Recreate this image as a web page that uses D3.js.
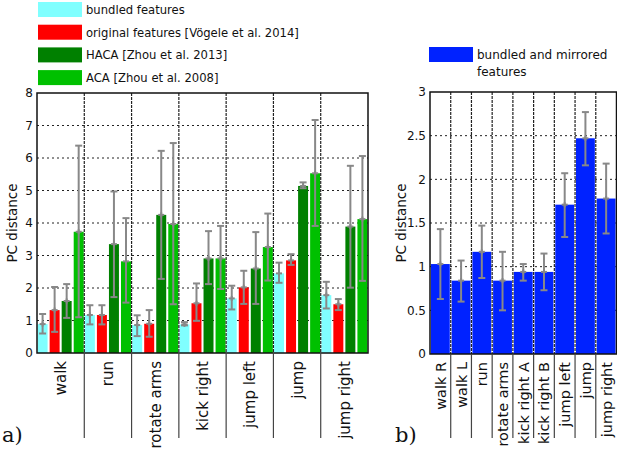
<!DOCTYPE html>
<html>
<head>
<meta charset="utf-8">
<script src="https://cdn.jsdelivr.net/npm/d3@7"></script>
<style>
  body { margin: 0; background: #fff; }
  svg text { font-family: "DejaVu Sans", sans-serif; fill: #111; }
</style>
</head>
<body>
<div id="chart"></div>
<script>
// ---- data, panel a ----
var motionsA = ["walk", "run", "rotate arms", "kick right", "jump left", "jump", "jump right"];
var seriesNames = ["bundled features", "original features [Vögele et al. 2014]",
                   "HACA [Zhou et al. 2013]", "ACA [Zhou et al. 2008]"];
var seriesColors = ["#80ffff", "#ff0000", "#008000", "#00c000"];
// means
var bundled  = [0.89, 1.17, 0.86, 0.88, 1.68, 2.45, 1.78];
var original = [1.32, 1.17, 0.90, 1.53, 2.02, 2.85, 1.50];
var haca     = [1.60, 3.35, 4.25, 2.91, 2.60, 5.14, 3.89];
var aca      = [3.73, 2.82, 3.97, 2.91, 3.26, 5.53, 4.12];
// error bar ends
var bundledLo  = [0.60, 0.88, 0.52, 0.85, 1.34, 2.16, 1.37];
var bundledHi  = [1.20, 1.47, 1.16, 0.95, 2.07, 2.78, 2.19];
var originalLo = [0.65, 0.88, 0.50, 0.99, 1.51, 2.71, 1.32];
var originalHi = [2.03, 1.47, 1.32, 2.14, 2.53, 3.04, 1.66];
var hacaLo     = [1.08, 1.72, 2.28, 2.12, 1.51, 5.07, 2.01];
var hacaHi     = [2.12, 4.97, 6.22, 3.75, 3.72, 5.25, 5.76];
var acaLo      = [1.10, 1.55, 1.50, 1.97, 2.23, 3.91, 2.22];
var acaHi      = [6.38, 4.15, 6.46, 3.91, 4.29, 7.17, 6.06];
var ticksA = [0, 1, 2, 3, 4, 5, 6, 7, 8];

// ---- data, panel b ----
var motionsB = ["walk R", "walk L", "run", "rotate arms", "kick right A", "kick right B",
                "jump left", "jump", "jump right"];
var mirrored   = [1.03, 0.84, 1.17, 0.84, 0.94, 0.94, 1.71, 2.47, 1.78];
var mirroredLo = [0.63, 0.60, 0.87, 0.50, 0.84, 0.73, 1.34, 2.16, 1.38];
var mirroredHi = [1.43, 1.07, 1.47, 1.17, 1.03, 1.15, 2.07, 2.77, 2.18];
var ticksB = [0, 0.5, 1, 1.5, 2, 2.5, 3];

var svg = d3.select("#chart").append("svg")
  .attr("width", 617)
  .attr("height", 449);

var errColor = "#888888";

// draws one bar panel
function drawPanel(opt) {
  var g = svg.append("g");
  var x0 = d3.scaleBand().domain(opt.cats).range([opt.left, opt.right]).padding(0);
  var x1 = d3.scaleBand().domain(d3.range(opt.series.length))
    .range([0, x0.bandwidth()]).paddingInner(opt.inner).paddingOuter(opt.outer);
  var y = d3.scaleLinear().domain([0, opt.max]).range([opt.bottom, opt.top]);

  // horizontal dotted grid
  g.selectAll(".hgrid").data(opt.ticks.slice(1, -1)).enter().append("line")
    .attr("x1", opt.left).attr("x2", opt.right)
    .attr("y1", d => y(d)).attr("y2", d => y(d))
    .attr("stroke", "#222").attr("stroke-width", 1)
    .attr("stroke-dasharray", "2,3");

  // bars
  opt.series.forEach(function(s, i) {
    g.selectAll(".bar" + i).data(s.values).enter().append("rect")
      .attr("x", (d, j) => x0(opt.cats[j]) + x1(i))
      .attr("width", x1.bandwidth())
      .attr("y", d => y(d))
      .attr("height", d => opt.bottom - y(d))
      .attr("fill", s.color);
  });

  // group dividers inside plot
  var dividers = opt.cats.slice(1).map(c => x0(c));
  g.selectAll(".vgrid").data(dividers).enter().append("line")
    .attr("x1", d => d).attr("x2", d => d)
    .attr("y1", opt.top).attr("y2", opt.bottom)
    .attr("stroke", "#222").attr("stroke-width", 1.2)
    .attr("stroke-dasharray", "3,1");

  // error bars
  opt.series.forEach(function(s, i) {
    s.values.forEach(function(v, j) {
      var cx = x0(opt.cats[j]) + x1(i) + x1.bandwidth() / 2;
      var eg = g.append("g").attr("stroke", errColor).attr("stroke-width", 2);
      eg.append("line").attr("x1", cx).attr("x2", cx)
        .attr("y1", y(s.lo[j])).attr("y2", y(s.hi[j]));
      [s.lo[j], s.hi[j]].forEach(function(e) {
        eg.append("line").attr("x1", cx - 3.5).attr("x2", cx + 3.5)
          .attr("y1", y(e)).attr("y2", y(e));
      });
      eg.append("line").attr("x1", cx - 3).attr("x2", cx + 3)
        .attr("y1", y(v)).attr("y2", y(v));
      eg.append("line").attr("x1", cx).attr("x2", cx)
        .attr("y1", y(v) - 2.5).attr("y2", y(v) + 2.5);
    });
  });

  // frame
  g.append("rect")
    .attr("x", opt.left).attr("y", opt.top)
    .attr("width", opt.right - opt.left).attr("height", opt.bottom - opt.top)
    .attr("fill", "none").attr("stroke", "#111").attr("stroke-width", 1.5);

  // y axis
  var yAxis = d3.axisLeft(y).tickValues(opt.ticks).tickSize(0).tickPadding(4)
    .tickFormat(d3.format("~g"));
  var ya = g.append("g").attr("transform", `translate(${opt.left},0)`).call(yAxis);
  ya.select(".domain").remove();
  ya.selectAll("text").attr("font-size", 12).attr("font-family", "DejaVu Sans").attr("fill", "#111");

  // y label
  g.append("text")
    .attr("transform", `translate(${opt.ylabelX},${(opt.top + opt.bottom) / 2}) rotate(-90)`)
    .attr("text-anchor", "middle")
    .attr("font-size", 13.5)
    .text("PC distance");

  // separators below axis
  g.selectAll(".sep").data(dividers).enter().append("line")
    .attr("x1", d => d).attr("x2", d => d)
    .attr("y1", opt.bottom).attr("y2", 438)
    .attr("stroke", "#444").attr("stroke-width", 1.2);

  // category labels
  g.selectAll(".cat").data(opt.cats).enter().append("text")
    .attr("transform", d => `translate(${x0(d) + x0.bandwidth() / 2 + 5.5},${opt.bottom + 8}) rotate(-90)`)
    .attr("text-anchor", "end")
    .attr("font-size", opt.catSize)
    .text(d => d);

  // panel letter
  g.append("text")
    .attr("x", opt.letterX).attr("y", 442)
    .attr("font-size", 21)
    .style("font-family", "'DejaVu Serif', serif")
    .text(opt.letter);
}

drawPanel({
  cats: motionsA,
  series: [
    { values: bundled, lo: bundledLo, hi: bundledHi, color: seriesColors[0] },
    { values: original, lo: originalLo, hi: originalHi, color: seriesColors[1] },
    { values: haca, lo: hacaLo, hi: hacaHi, color: seriesColors[2] },
    { values: aca, lo: acaLo, hi: acaHi, color: seriesColors[3] }
  ],
  left: 37, right: 368, top: 93, bottom: 353, max: 8, ticks: ticksA,
  inner: 0.17, outer: 0.05, ylabelX: 17, catSize: 15, letter: "a)", letterX: 2
});

drawPanel({
  cats: motionsB,
  series: [ { values: mirrored, lo: mirroredLo, hi: mirroredHi, color: "#0022ff" } ],
  left: 430, right: 616.5, top: 92, bottom: 354, max: 3, ticks: ticksB,
  inner: 0, outer: 0.05, ylabelX: 406, catSize: 14.5, letter: "b)", letterX: 395
});

// legend panel a
var legA = svg.append("g");
seriesNames.forEach(function(name, i) {
  var yy = 2 + i * 22.7;
  legA.append("rect").attr("x", 38).attr("y", yy)
    .attr("width", 44).attr("height", 15).attr("fill", seriesColors[i]);
  legA.append("text").attr("x", 86).attr("y", yy + 12)
    .attr("font-size", 11.6).text(name);
});

// legend panel b
var legB = svg.append("g");
legB.append("rect").attr("x", 429).attr("y", 47)
  .attr("width", 44).attr("height", 15).attr("fill", "#0022ff");
legB.append("text").attr("x", 477).attr("y", 59).attr("font-size", 12).text("bundled and mirrored");
legB.append("text").attr("x", 477).attr("y", 76).attr("font-size", 12).text("features");
</script>
</body>
</html>
